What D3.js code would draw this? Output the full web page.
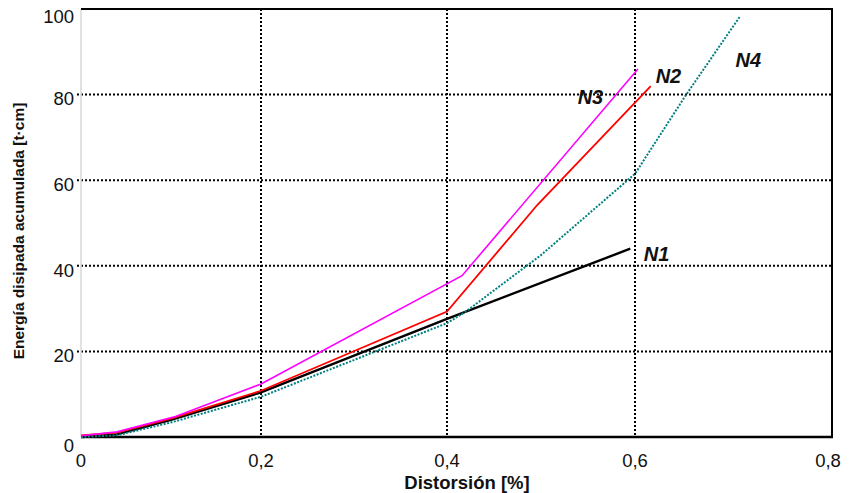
<!DOCTYPE html>
<html><head><meta charset="utf-8">
<script src="https://cdn.jsdelivr.net/npm/d3@7"></script>
<style>body{margin:0;background:#fff}svg{display:block}text{font-family:"Liberation Sans",Arial,sans-serif}</style>
</head><body>
<svg id="c" width="851" height="493"></svg>
<script>
const xTicks = [0, 0.2, 0.4, 0.6, 0.8];
const xTickLabels = ["0", "0,2", "0,4", "0,6", "0,8"];
const yTicks = [0, 20, 40, 60, 80, 100];
const yTickLabels = ["0", "20", "40", "60", "80", "100"];
const seriesNames = ["N1", "N2", "N3", "N4"];
const n1 = [[0,0],[0.04,0.6],[0.1,4],[0.2,10.4],[0.4,27.6],[0.595,44]];
const n2 = [[0,0.4],[0.04,1],[0.1,4.3],[0.2,10.8],[0.4,29.3],[0.496,54.2],[0.616,82]];
const n3 = [[0,0.3],[0.04,1.2],[0.105,4.8],[0.2,12.4],[0.416,37.7],[0.603,86]];
const n4 = [[0,0],[0.04,0.4],[0.1,3.4],[0.2,9.4],[0.4,26.6],[0.42,29.3],[0.5,42.5],[0.6,61.5],[0.652,80],[0.707,98.4]];
const labelPos = [[0.609,41.2],[0.621,82.6],[0.539,77.8],[0.702,86.4]];

const svg = d3.select("#c");
const x = d3.scaleLinear().domain(xTicks).range([81, 261, 447, 635, 832]);
const y = d3.scaleLinear().domain([0, 100]).range([437, 9]);

// gridlines
svg.append("g").selectAll("line").data(yTicks.filter(v => v > 0 && v < 100)).join("line")
  .attr("x1", 77).attr("x2", x(0.8)).attr("y1", d => y(d)).attr("y2", d => y(d))
  .attr("stroke", "#000").attr("stroke-width", 2).attr("stroke-dasharray", "2,2");
svg.append("g").selectAll("line").data(xTicks.filter(v => v > 0 && v < 0.8)).join("line")
  .attr("x1", d => x(d)).attr("x2", d => x(d)).attr("y1", y(100)).attr("y2", y(0))
  .attr("stroke", "#000").attr("stroke-width", 2).attr("stroke-dasharray", "2,2");
// frame
svg.append("line").attr("x1", x(0)).attr("x2", x(0)).attr("y1", y(100)).attr("y2", y(0))
  .attr("stroke", "#d9d9d9").attr("stroke-width", 1.5);
svg.append("line").attr("x1", x(0)).attr("x2", x(0.8)+1).attr("y1", y(100)).attr("y2", y(100))
  .attr("stroke", "#000").attr("stroke-width", 2);
svg.append("line").attr("x1", x(0.8)).attr("x2", x(0.8)).attr("y1", y(100)).attr("y2", y(0)+1)
  .attr("stroke", "#000").attr("stroke-width", 2);
svg.append("line").attr("x1", x(0)).attr("x2", x(0.8)+1).attr("y1", y(0)).attr("y2", y(0))
  .attr("stroke", "#000").attr("stroke-width", 2.4);

// tick labels
svg.append("g").selectAll("text").data(yTicks).join("text")
  .attr("x", 74).attr("y", (d) => y(d) + (d === 0 ? 10 : d === 100 ? 9 : 6))
  .attr("text-anchor", "end").attr("dominant-baseline", "middle")
  .attr("font-size", 18.5).attr("fill", "#111").text((d, i) => yTickLabels[i]);
svg.append("g").selectAll("text").data(xTicks).join("text")
  .attr("x", d => x(d) - (d === 0.8 ? 4 : 0)).attr("y", 467)
  .attr("text-anchor", "middle").attr("font-size", 18.5).attr("fill", "#111")
  .text((d, i) => xTickLabels[i]);

// axis titles
svg.append("text").attr("x", 467).attr("y", 489).attr("text-anchor", "middle")
  .attr("font-size", 18.5).attr("font-weight", "bold").attr("fill", "#111").text("Distorsión [%]");
svg.append("text").attr("transform", "translate(24,231) rotate(-90)").attr("text-anchor", "middle")
  .attr("font-size", 15.5).attr("font-weight", "bold").attr("fill", "#111")
  .text("Energía disipada acumulada [t·cm]");

// series
const line = d3.line().x(d => x(d[0])).y(d => y(d[1]));
const series = [
  {data: n1, color: "#000", w: 2.4, dash: null},
  {data: n4, color: "#008080", w: 2, dash: "2,1.5"},
  {data: n2, color: "#ff0000", w: 1.8, dash: null},
  {data: n3, color: "#ff00ff", w: 1.6, dash: null}
];
series.forEach(s => {
  svg.append("path").datum(s.data).attr("d", line).attr("fill", "none")
    .attr("stroke", s.color).attr("stroke-width", s.w)
    .attr("stroke-dasharray", s.dash);
});

// series labels
svg.append("g").selectAll("text").data(seriesNames).join("text")
  .attr("x", (d, i) => x(labelPos[i][0])).attr("y", (d, i) => y(labelPos[i][1]))
  .attr("font-size", 20).attr("font-weight", "bold").attr("font-style", "italic")
  .attr("fill", "#111").text(d => d);
</script>
</body></html>
